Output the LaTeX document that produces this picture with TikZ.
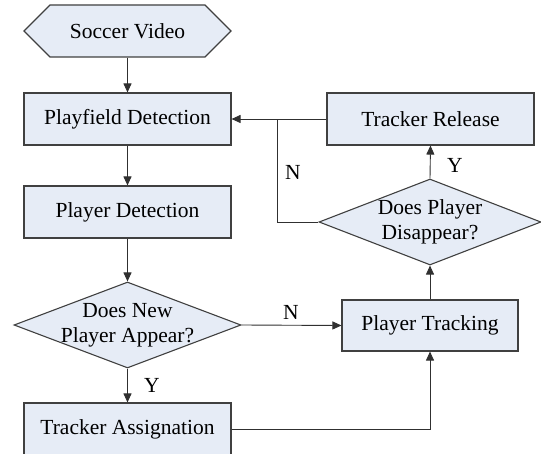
\documentclass[tikz,border=0pt]{standalone}
\usepackage{fontspec}
\setmainfont{Liberation Serif}
\usetikzlibrary{arrows.meta,shapes.geometric,shapes.symbols}
\definecolor{boxfill}{HTML}{E6ECF6}
\definecolor{boxline}{HTML}{404040}
\definecolor{conn}{HTML}{303030}
\begin{document}
\begin{tikzpicture}[x=1pt,y=-1pt,
  font=\fontsize{21.5}{24}\selectfont,
  procbox/.style={draw=boxline,fill=boxfill,line width=1.1pt,rectangle,minimum width=207pt,minimum height=52pt,inner sep=0pt},
  hexbox/.style={draw=boxline,fill=boxfill,line width=1.1pt,signal,signal to=west and east,signal pointer angle=90,minimum width=207pt,minimum height=52pt,inner sep=0pt},
  decbox/.style={draw=boxline,fill=boxfill,line width=1.1pt,diamond,minimum width=#1,minimum height=86pt,inner sep=0pt},
  txt/.style={align=center,inner sep=0pt,font=\fontsize{21.5}{25}\selectfont},
  conline/.style={draw=conn,line width=0.9pt},
  arr/.style={conline,-{Triangle[length=9pt,width=8pt]}},
  lbl/.style={inner sep=0pt}]
\useasboundingbox (0,0) rectangle (541,454);
\node[hexbox] (sv) at (127.5,31) {Soccer Video};
\node[procbox] (pf) at (127.5,119) {Playfield Detection};
\node[procbox] (pd) at (127.5,212) {Player Detection};
\node[decbox=227pt] (d1) at (127.5,325) {};
\node[txt] at (d1) {Does New\\Player Appear?};
\node[procbox] (ta) at (127.5,429) {Tracker Assignation};
\node[procbox,minimum width=176pt,minimum height=51pt] (pt) at (430,325.5) {Player Tracking};
\node[decbox=222pt] (d2) at (430,222) {};
\node[txt] at (d2) {Does Player\\Disappear?};
\node[procbox] (tr) at (430.5,119) {Tracker Release};
\coordinate (j) at (277,119);
\draw[arr] (sv.south) -- (pf.north);
\draw[arr] (pf.south) -- (pd.north);
\draw[arr] (pd.south) -- (d1.north);
\draw[arr] (d1.south) -- (ta.north);
\draw[arr] (d1.east) -- (pt.west);
\draw[arr] (ta.east) -| (pt.south);
\draw[arr] (pt.north) -- (d2.south);
\draw[arr] (d2.north) -- (tr.south);
\draw[arr] (tr.west) -- (pf.east);
\draw[conline] (d2.west) -| (j);
\node[lbl] at (291,312) {N};
\node[lbl] at (293,172) {N};
\node[lbl] at (455,165) {Y};
\node[lbl] at (152,385) {Y};
\end{tikzpicture}
\end{document}
